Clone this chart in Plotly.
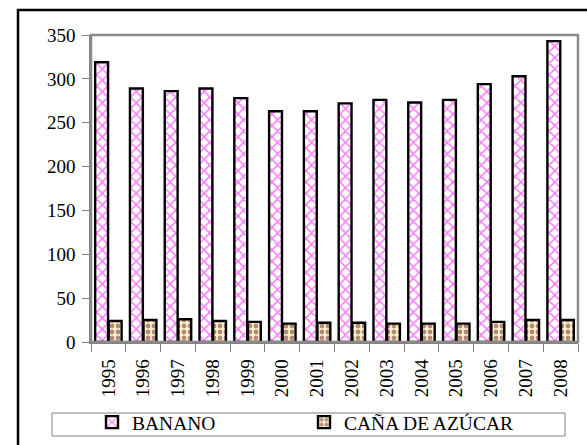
import plotly.graph_objects as go

years = ["1995", "1996", "1997", "1998", "1999", "2000", "2001",
         "2002", "2003", "2004", "2005", "2006", "2007", "2008"]
banano = [319, 289, 286, 289, 278, 263, 263, 272, 276, 273, 276, 294, 303, 343]
cana = [24, 25, 26, 24, 23, 21, 22, 22, 21, 21, 21, 23, 25, 25]
y_ticks = [0, 50, 100, 150, 200, 250, 300, 350]

FONT = "Liberation Serif, Times New Roman, serif"

fig = go.Figure()
fig.add_trace(go.Bar(
    x=years, y=banano, name="BANANO",
    marker=dict(color="white", line=dict(color="black", width=2.4),
                pattern=dict(shape="x", fgcolor="#f000f0", bgcolor="white",
                             size=8, solidity=0.35)),
))
fig.add_trace(go.Bar(
    x=years, y=cana, name="CAÑA DE AZÚCAR",
    marker=dict(color="#fff4c4", line=dict(color="black", width=2.4),
                pattern=dict(shape=".", fgcolor="#6a1a3c", bgcolor="#fff4c4",
                             size=6, solidity=0.5)),
))

W, H = 587, 445
L, R, T, B = 91, 9, 35, 103
pw, ph = W - L - R, H - T - B

def px(x):
    return (x - L) / pw

def py(y):
    return 1 - (y - T) / ph

fig.update_layout(
    width=W, height=H,
    margin=dict(l=L, r=R, t=T, b=B, autoexpand=False),
    paper_bgcolor="white", plot_bgcolor="white",
    font=dict(family=FONT, size=18, color="black"),
    barmode="group", bargap=0.22, bargroupgap=0.05,
    showlegend=True,
    legend=dict(orientation="h", x=px(92), y=py(403), xanchor="left", yanchor="top",
                bgcolor="rgba(0,0,0,0)", borderwidth=0,
                entrywidth=167, entrywidthmode="pixels",
                itemwidth=30, font=dict(family=FONT, size=19.5)),
    xaxis=dict(type="category", showline=True, linecolor="#808080", linewidth=1.5,
               ticks="outside", tickson="boundaries", ticklen=8, tickcolor="#808080",
               tickangle=-90, tickfont=dict(family=FONT, size=19), mirror=False,
               showgrid=False, ticklabelstandoff=8),
    yaxis=dict(range=[0, 350], tickvals=y_ticks, showline=True, linecolor="#808080",
               linewidth=1.5, ticks="outside", ticklen=7, tickcolor="#808080",
               tickfont=dict(family=FONT, size=19), showgrid=False, zeroline=False,
               ticklabelstandoff=3),
    shapes=[
        # plot-area frame
        dict(type="rect", xref="paper", yref="paper", x0=0, y0=0, x1=1, y1=1,
             line=dict(color="#8a8a8a", width=2.5), layer="above"),
        # outer chart frame
        dict(type="rect", xref="paper", yref="paper", x0=px(18), y0=py(470),
             x1=px(610), y1=py(10), line=dict(color="black", width=2.5)),
        # legend box
        dict(type="rect", xref="paper", yref="paper", x0=px(52), y0=py(436),
             x1=px(565), y1=py(413), line=dict(color="#808080", width=1)),
    ],
)

fig.write_html("out.html", config={"displayModeBar": False},
               post_script="document.body.style.margin='0';document.body.style.overflow='hidden';")
